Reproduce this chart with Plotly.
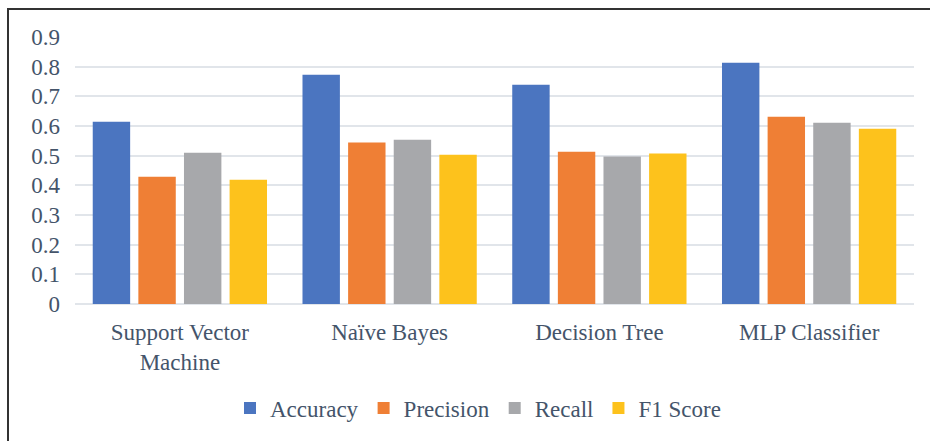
import plotly.graph_objects as go

categories = ["Support Vector<br>Machine", "Naïve Bayes", "Decision Tree", "MLP Classifier"]
series_names = ["Accuracy", "Precision", "Recall", "F1 Score"]
accuracy = [0.614, 0.773, 0.739, 0.813]
precision = [0.429, 0.544, 0.513, 0.631]
recall = [0.510, 0.554, 0.497, 0.611]
f1_score = [0.419, 0.503, 0.507, 0.591]
y_ticks = [0, 0.1, 0.2, 0.3, 0.4, 0.5, 0.6, 0.7, 0.8, 0.9]
y_tick_labels = ["0", "0.1", "0.2", "0.3", "0.4", "0.5", "0.6", "0.7", "0.8", "0.9"]

colors = ["#4B75C0", "#EF7F35", "#A7A8AB", "#FDC21C"]
values = [accuracy, precision, recall, f1_score]

W, H = 930, 441
L, R, T, B = 75, 16, 37, 137
pw, ph = W - L - R, H - T - B

def px_x(p):
    return (p - L) / pw

def px_y(p):
    return (H - B - p) / ph

FONT = "Liberation Serif, Times New Roman, serif"
TXT = "#44546A"
FS = 23

fig = go.Figure()
for name, vals, col in zip(series_names, values, colors):
    fig.add_trace(go.Bar(x=categories, y=vals, name=name, marker=dict(color=col, line=dict(width=0))))

fig.update_layout(
    width=W, height=H, autosize=False,
    margin=dict(l=L, r=R, t=T, b=B, pad=0),
    paper_bgcolor="white", plot_bgcolor="white",
    barmode="group", bargap=0.13, bargroupgap=0.18,
    font=dict(family=FONT, size=FS, color=TXT),
    showlegend=True,
    legend=dict(orientation="h", x=px_x(478), xanchor="center", y=px_y(408), yanchor="middle",
                font=dict(family=FONT, size=FS, color=TXT), itemwidth=30, traceorder="normal",
                bgcolor="rgba(0,0,0,0)"),
    xaxis=dict(showgrid=False, showline=False, ticks="", tickfont=dict(size=FS),
               tickangle=0, ticklabelstandoff=12),
    yaxis=dict(range=[0, 0.9], tickvals=y_ticks, ticktext=y_tick_labels, showgrid=True,
               gridcolor="#E1E5EA", gridwidth=1.5, zeroline=True, zerolinecolor="#E1E5EA",
               zerolinewidth=1.5, showline=False, ticks="", ticklabelstandoff=14,
               tickfont=dict(size=FS)),
    shapes=[
        dict(type="line", xref="paper", yref="paper", x0=px_x(8), x1=px_x(8), y0=px_y(9), y1=px_y(445),
             line=dict(color="#333333", width=2)),
        dict(type="line", xref="paper", yref="paper", x0=px_x(7), x1=px_x(935), y0=px_y(9), y1=px_y(9),
             line=dict(color="#333333", width=2)),
    ],
)

fig.write_html("out.html", config={"displayModeBar": False},
               post_script="document.body.style.margin='0';")
